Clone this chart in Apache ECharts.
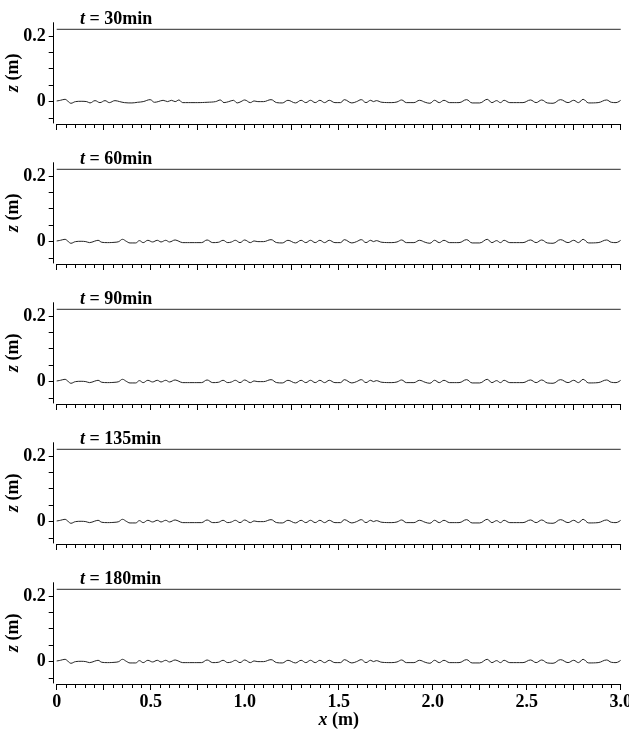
<!DOCTYPE html>
<html>
<head>
<meta charset="utf-8">
<script src="https://cdn.jsdelivr.net/npm/echarts@6/dist/echarts.min.js"></script>
<style>
  html, body { margin: 0; padding: 0; background: #fff; }
  #bed-chart { width: 629px; height: 735px; }
</style>
</head>
<body>
<div id="bed-chart"></div>
<script>
// panel times (min)
var times = [30, 60, 90, 135, 180];

// still water level (m)
var waterLevel = 0.22;

// bed profile [x (m), z (m)]
var head30 = [
  [0, 0.002], [0.02, 0.004], [0.044, 0.007], [0.06, 0.001], [0.076, -0.005], [0.1, 0],
  [0.13, 0.001], [0.16, 0], [0.177, -0.004], [0.204, 0.003], [0.23, -0.003], [0.257, 0.003],
  [0.28, -0.003], [0.31, 0.003], [0.335, 0], [0.36, -0.003], [0.4, -0.004], [0.43, -0.002],
  [0.46, 0], [0.497, 0.006], [0.52, -0.002], [0.54, 0], [0.566, 0.004], [0.59, 0],
  [0.61, 0.004], [0.63, 0], [0.65, 0.005], [0.67, -0.003],
  [0.7, -0.003], [0.75, -0.003], [0.8, -0.002], [0.845, 0], [0.87, 0.005], [0.89, -0.003],
  [0.915, 0], [0.94, 0.004], [0.96, -0.004], [0.98, 0]
];
var headLater = [
  [0, 0.002], [0.02, 0.004], [0.044, 0.007], [0.06, 0.001], [0.076, -0.005], [0.1, 0],
  [0.13, 0.001], [0.155, 0], [0.175, -0.003], [0.2, 0.001], [0.22, 0.004], [0.24, -0.002],
  [0.27, -0.003], [0.31, -0.002], [0.33, 0], [0.35, 0.007], [0.37, 0.001], [0.39, -0.004],
  [0.42, -0.004], [0.44, 0.003], [0.46, -0.003], [0.485, 0.004], [0.51, -0.001], [0.535, 0.004],
  [0.555, -0.001], [0.58, 0.004], [0.6, -0.001], [0.63, 0.005], [0.65, 0.001], [0.67, -0.003],
  [0.72, -0.003], [0.77, -0.003],
  [0.8, 0.005], [0.83, -0.003], [0.86, -0.002], [0.885, 0.004], [0.91, -0.003], [0.93, -0.001],
  [0.95, 0.004], [0.975, -0.003]
];
var bedTail = [
  [1.0, 0.005], [1.03, -0.003], [1.05, 0.002], [1.07, 0], [1.1, 0], [1.14, 0.006],
  [1.17, -0.003], [1.2, -0.004], [1.23, 0.004], [1.27, -0.004], [1.3, 0.004], [1.325, -0.003],
  [1.35, 0.004], [1.375, -0.003], [1.4, 0.004], [1.425, -0.003], [1.45, 0.004], [1.48, -0.003],
  [1.51, -0.003], [1.53, 0.006], [1.57, -0.004], [1.595, 0], [1.62, 0.006], [1.645, -0.003],
  [1.67, 0.004], [1.685, 0], [1.7, 0.003], [1.73, -0.002], [1.78, -0.003], [1.81, -0.001],
  [1.835, 0.005], [1.86, -0.003], [1.9, -0.003], [1.93, 0.004], [1.96, -0.002], [1.985, -0.005],
  [2.01, 0.004], [2.035, -0.003], [2.06, 0.004], [2.09, -0.003], [2.14, -0.003], [2.18, 0.006],
  [2.21, -0.004], [2.25, -0.004], [2.29, 0.007], [2.315, -0.003], [2.34, 0.003], [2.36, -0.003],
  [2.38, 0.004], [2.41, -0.003], [2.48, -0.003], [2.52, 0.005], [2.55, -0.003], [2.58, 0.005],
  [2.61, -0.004], [2.64, -0.005], [2.68, 0.006], [2.72, -0.003], [2.75, 0.004], [2.775, -0.003],
  [2.8, 0.007], [2.83, -0.004], [2.88, -0.003], [2.925, 0.005], [2.95, -0.002], [2.975, -0.003],
  [3.0, 0.004]
];

var xLabels = [0, 0.5, 1.0, 1.5, 2.0, 2.5, 3.0];
var yTicks = [-0.05, 0, 0.05, 0.1, 0.15, 0.2];
var yLabels = [0, 0.2];

var profiles = [
  head30.concat(bedTail),
  headLater.concat(bedTail),
  headLater.concat(bedTail),
  headLater.concat(bedTail),
  headLater.concat(bedTail)
];

var font = 'Liberation Serif';
var chartDom = document.getElementById('bed-chart');
var myChart = echarts.init(chartDom);

function boldText(size) {
  return {
    fontFamily: font, fontWeight: 'bold', fontSize: size, color: '#000',
    rich: { i: { fontFamily: font, fontWeight: 'bold', fontStyle: 'italic', fontSize: size, color: '#000' } }
  };
}

var grids = [], xAxes = [], yAxes = [], titles = [], series = [];
times.forEach(function (t, i) {
  var top = 22.7 + 140 * i;
  var last = i === times.length - 1;
  grids.push({
    left: 56.7, width: 564, top: top, height: 100.3,
    containLabel: false, outerBoundsMode: 'none'
  });
  titles.push({
    text: '{i|t} = ' + t + 'min',
    left: 80,
    top: top - 12,
    padding: 0,
    textStyle: boldText(18)
  });
  xAxes.push({
    type: 'value', gridIndex: i, min: 0, max: 3, interval: 0.25,
    offset: 1,
    name: last ? '{i|x} (m)' : '',
    nameLocation: 'middle', nameGap: 27, nameMoveOverlap: false,
    nameTextStyle: boldText(18),
    axisLine: { show: true, onZero: false, lineStyle: { color: '#000', width: 1 } },
    axisTick: { show: true, length: 6, lineStyle: { color: '#000' } },
    minorTick: { show: true, splitNumber: 5, length: 4, lineStyle: { color: '#000' } },
    axisLabel: {
      show: last, customValues: xLabels, margin: 9,
      fontFamily: font, fontWeight: 'bold', fontSize: 18, color: '#000',
      formatter: function (v) { return v === 0 ? '0' : v.toFixed(1); }
    },
    splitLine: { show: false }
  });
  yAxes.push({
    type: 'value', gridIndex: i, min: -0.065, max: 0.24,
    offset: 3,
    name: '{i|z} (m)',
    nameLocation: 'middle', nameGap: 31, nameMoveOverlap: false,
    nameTextStyle: boldText(18),
    axisLine: { show: true, onZero: false, lineStyle: { color: '#000', width: 1 } },
    axisTick: { show: true, length: 5, customValues: yTicks, lineStyle: { color: '#000' } },
    axisLabel: {
      customValues: yLabels, margin: 8,
      fontFamily: font, fontWeight: 'bold', fontSize: 18, color: '#000',
      formatter: function (v) { return v === 0 ? '0' : String(v); }
    },
    splitLine: { show: false }
  });
  series.push({
    type: 'line', xAxisIndex: i, yAxisIndex: i, symbol: 'none', silent: true,
    data: [[0, waterLevel], [3, waterLevel]],
    lineStyle: { color: '#555', width: 1.2 }
  });
  series.push({
    type: 'line', xAxisIndex: i, yAxisIndex: i, symbol: 'none', silent: true,
    smooth: 0.4,
    data: profiles[i],
    lineStyle: { color: '#222', width: 1 }
  });
});

var option = {
  animation: false,
  backgroundColor: '#fff',
  title: titles,
  grid: grids,
  xAxis: xAxes,
  yAxis: yAxes,
  series: series
};

option && myChart.setOption(option);
</script>
</body>
</html>
